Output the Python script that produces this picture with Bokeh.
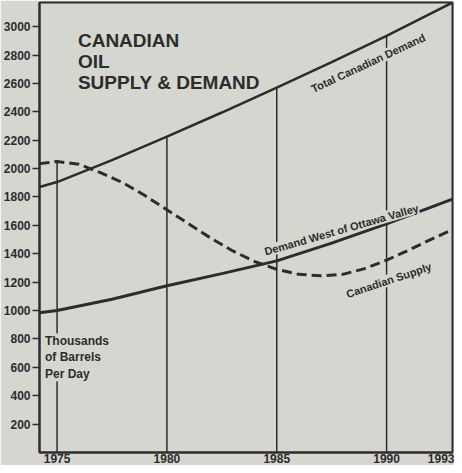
from bokeh.plotting import figure
from bokeh.models import Label, FixedTicker, Range1d
from bokeh.embed import file_html
from bokeh.resources import INLINE

# ---- data (thousands of barrels per day) ----
total_years = [1974.2, 1975, 1977.5, 1980, 1982.5, 1985, 1987.5, 1990, 1993]
total_demand = [1870, 1905, 2060, 2225, 2395, 2570, 2750, 2935, 3170]

west_years = [1974.2, 1975, 1977.5, 1980, 1982.5, 1985, 1987.5, 1990, 1993]
west_demand = [985, 1000, 1080, 1175, 1260, 1350, 1475, 1610, 1785]

supply_years = [1974.2, 1975, 1976, 1977, 1978, 1979, 1980, 1981, 1982, 1983,
                1984, 1985, 1986, 1987, 1988, 1989, 1990, 1991, 1992, 1993]
supply = [2035, 2050, 2030, 1970, 1900, 1810, 1710, 1610, 1510, 1420,
          1345, 1290, 1255, 1245, 1255, 1295, 1355, 1425, 1500, 1570]

x_ticks = [1975, 1980, 1985, 1990, 1993]
y_ticks = [200, 400, 600, 800, 1000, 1200, 1400, 1600, 1800, 2000,
           2200, 2400, 2600, 2800, 3000]

title_text = "CANADIAN\nOIL\nSUPPLY & DEMAND"
unit_text = "Thousands\nof Barrels\nPer Day"

PAPER = "#d6d6d1"
INK = "#2c2c2c"
FONT = "Liberation Sans"

p = figure(width=454, height=465, output_backend="svg", toolbar_location=None,
           x_range=Range1d(1974.2, 1993), y_range=Range1d(0, 3170),
           min_border_top=2, min_border_right=2, min_border_left=0, min_border_bottom=0)
p.background_fill_color = PAPER
p.border_fill_color = PAPER
p.outline_line_color = INK
p.outline_line_width = 2
p.xgrid.visible = False
p.ygrid.visible = False

# axes
p.yaxis.ticker = FixedTicker(ticks=y_ticks)
p.yaxis.minor_tick_line_color = None
p.yaxis.major_tick_out = 7
p.yaxis.major_tick_in = 0
p.yaxis.major_tick_line_color = INK
p.yaxis.major_tick_line_width = 1.5
p.yaxis.axis_line_color = INK
p.yaxis.axis_line_width = 2
p.yaxis.major_label_standoff = 2
p.yaxis.major_label_text_font = FONT
p.yaxis.major_label_text_font_style = "bold"
p.yaxis.major_label_text_font_size = "12px"
p.yaxis.major_label_text_color = INK

p.xaxis.ticker = FixedTicker(ticks=x_ticks)
p.xaxis.minor_tick_line_color = None
p.xaxis.major_tick_out = 0
p.xaxis.major_tick_in = 0
p.xaxis.axis_line_color = INK
p.xaxis.axis_line_width = 2
p.xaxis.major_label_standoff = 1
p.xaxis.major_label_text_font = FONT
p.xaxis.major_label_text_font_style = "bold"
p.xaxis.major_label_text_font_size = "12px"
p.xaxis.major_label_text_color = INK

# vertical guide lines: rise from the base to the curve they meet
grid_x = [1975, 1980, 1985, 1990]
grid_top = [supply[supply_years.index(1975)],
            total_demand[total_years.index(1980)],
            total_demand[total_years.index(1985)],
            total_demand[total_years.index(1990)]]
p.segment(x0=grid_x, y0=[0] * 4, x1=grid_x, y1=grid_top, line_color=INK, line_width=1.5)

# series
p.line(total_years, total_demand, line_color=INK, line_width=2.5)
p.line(west_years, west_demand, line_color=INK, line_width=3)
p.line(supply_years, supply, line_color=INK, line_width=3, line_dash="10 5")

# texts
p.add_layout(Label(x=1975.95, y=2978, text=title_text, text_font=FONT, text_font_style="bold",
                   text_font_size="19px", text_color=INK, text_baseline="top",
                   text_line_height=1.0))
p.add_layout(Label(x=1974.45, y=838, text=unit_text, text_font=FONT, text_font_style="bold",
                   text_font_size="12px", text_color=INK, text_baseline="top",
                   text_line_height=1.2, background_fill_color=PAPER))
p.add_layout(Label(x=1986.71, y=2520, text="Total Canadian Demand", angle=25, angle_units="deg",
                   text_font=FONT, text_font_style="bold", text_font_size="11px", text_color=INK,
                   background_fill_color=PAPER))
p.add_layout(Label(x=1984.52, y=1374, text="Demand West of Ottawa Valley", angle=16, angle_units="deg",
                   text_font=FONT, text_font_style="bold", text_font_size="11px", text_color=INK,
                   background_fill_color=PAPER))
p.add_layout(Label(x=1988.26, y=1074, text="Canadian Supply", angle=18.5, angle_units="deg",
                   text_font=FONT, text_font_style="bold", text_font_size="11px", text_color=INK,
                   background_fill_color=PAPER))

open("out.html", "w").write(file_html(p, INLINE))
